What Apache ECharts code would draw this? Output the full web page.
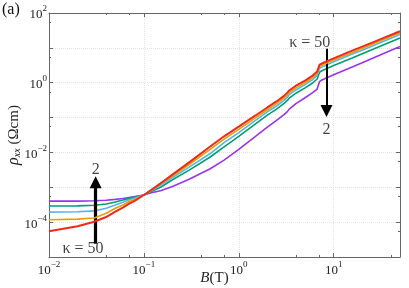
<!DOCTYPE html>
<html><head><meta charset="utf-8">
<script src="https://cdn.jsdelivr.net/npm/echarts@6/dist/echarts.min.js"></script>
<style>html,body{margin:0;padding:0;background:#fff}#c{width:409px;height:288px}</style>
</head><body><div id="c"></div>
<script>
// Magnetic field B (T)
const B = [0.01,0.02,0.03,0.04,0.05,0.06,0.07,0.08,0.1,0.12,0.15,0.2,0.3,0.5,0.7,1,1.5,2,2.5,3,3.25,3.4,4,5,6,6.7,7.1,7.5,10,15,20,30,50];
// rho_xx (Ohm cm) for each kappa
const rhoK2  = [4.0e-4,4.0e-4,4.1e-4,4.25e-4,4.5e-4,4.75e-4,5.1e-4,5.4e-4,6.0e-4,7.0e-4,8.0e-4,1.05e-3,1.7e-3,3.4e-3,6.0e-3,0.0122,0.029,0.053,0.083,0.122,0.148,0.175,0.25,0.37,0.52,0.66,1.08,1.2,1.7,2.7,3.75,6.0,11];
const rhoKa  = [2.9e-4,2.93e-4,3.05e-4,3.3e-4,3.8e-4,4.3e-4,4.8e-4,5.2e-4,6.0e-4,7.6e-4,1.0e-3,1.65e-3,3.1e-3,7.4e-3,0.0145,0.029,0.066,0.117,0.175,0.255,0.31,0.36,0.50,0.71,0.98,1.28,2.0,2.2,3.1,4.9,6.8,10.7,19.3];
const rhoKb  = [1.94e-4,1.98e-4,2.1e-4,2.5e-4,3.1e-4,3.7e-4,4.4e-4,4.9e-4,6.0e-4,8.0e-4,1.15e-3,1.9e-3,3.8e-3,9.3e-3,0.019,0.037,0.083,0.145,0.215,0.31,0.38,0.455,0.62,0.88,1.23,1.62,2.6,2.8,4.0,6.3,8.6,13.6,24];
const rhoKc  = [1.17e-4,1.22e-4,1.32e-4,1.8e-4,2.5e-4,3.1e-4,3.9e-4,4.5e-4,6.0e-4,8.3e-4,1.25e-3,2.1e-3,4.5e-3,0.0122,0.024,0.046,0.098,0.168,0.25,0.36,0.445,0.52,0.71,1.0,1.4,1.84,2.9,3.15,4.45,7.0,9.6,15.2,27];
const rhoK50 = [5.5e-5,7.6e-5,1.03e-4,1.4e-4,2.0e-4,2.6e-4,3.4e-4,4.1e-4,6.0e-4,8.5e-4,1.3e-3,2.3e-3,5.2e-3,0.0148,0.029,0.055,0.115,0.195,0.29,0.42,0.52,0.60,0.82,1.15,1.6,2.1,3.3,3.55,5.0,7.9,10.8,17,30];
const seriesNames = ['κ = 2','κ2','κ3','κ4','κ = 50'];
const seriesColors = ['#9933ee','#009e73','#56b4e9','#e69f00','#ee2a1b'];
const xTickExps = [-2,-1,0,1];
const yTickExps = [-4,-2,0,2];

const serif = 'Liberation Serif';
function expLabel(v, list){
  const e = Math.log10(v), r = Math.round(e);
  if (Math.abs(e - r) > 1e-6 || list.indexOf(r) < 0) return '';
  return '{b|10}{s|' + String(r).replace('-', '\u2212') + '}';
}
const rich = {
  b:{fontFamily:serif,fontSize:13,color:'#222',verticalAlign:'bottom',lineHeight:17},
  s:{fontFamily:serif,fontSize:9,color:'#222',verticalAlign:'top',lineHeight:17}
};
const axisLineStyle = {color:'#666',width:1};
const gridLine = {show:true,lineStyle:{type:'dotted',color:'#e2e2e2',width:1}};

const curves = [rhoK2, rhoKa, rhoKb, rhoKc, rhoK50].map((arr,k)=>({
  name: seriesNames[k], type:'line', showSymbol:false, symbol:'none',
  smooth:false,
  lineStyle:{color:seriesColors[k], width: k===4 ? 2 : 1.6},
  data: B.map((b,i)=>[b, arr[i]]), z: 2+k
}));

const chart = echarts.init(document.getElementById('c'), null, {renderer:'canvas'});
chart.setOption({
  animation:false,
  grid:{left:49,right:9,top:13,bottom:31,containLabel:false,outerBoundsMode:'none'},
  xAxis:[{
    type:'log', logBase:10, min:0.01, max:50, interval:1,
    axisLine:{lineStyle:axisLineStyle},
    axisTick:{inside:true,length:4,lineStyle:axisLineStyle},
    minorTick:{show:true,splitNumber:3,length:2,lineStyle:axisLineStyle},
    splitLine:gridLine,
    axisLabel:{margin:3,formatter:v=>expLabel(v,xTickExps),rich:rich,showMaxLabel:false},
    name:'{i|B}(T)', nameLocation:'middle', nameGap:14, nameMoveOverlap:false,
    nameTextStyle:{fontFamily:serif,fontSize:15,color:'#222',padding:[0,20,0,0],
      rich:{i:{fontFamily:serif,fontSize:15,fontStyle:'italic',color:'#222'}}}
  },{
    type:'log', logBase:10, min:0.01, max:50, interval:1, position:'top',
    axisLine:{lineStyle:axisLineStyle},
    axisTick:{inside:true,length:4,lineStyle:axisLineStyle},
    minorTick:{show:true,splitNumber:3,length:2,lineStyle:axisLineStyle},
    splitLine:{show:false}, axisLabel:{show:false}
  }],
  yAxis:[{
    type:'log', logBase:10, min:1e-5, max:100, interval:1,
    axisLine:{lineStyle:axisLineStyle},
    axisTick:{inside:true,length:4,lineStyle:axisLineStyle},
    minorTick:{show:true,splitNumber:2,length:2,lineStyle:axisLineStyle},
    splitLine:gridLine,
    axisLabel:{margin:2,formatter:v=>expLabel(v,yTickExps),rich:rich},
    name:'{r|ρ}{x|xx} (Ωcm)', nameLocation:'middle', nameGap:27, nameMoveOverlap:false,
    nameTextStyle:{fontFamily:serif,fontSize:15,color:'#222',
      rich:{r:{fontFamily:serif,fontSize:16,fontStyle:'italic',color:'#222'},
            x:{fontFamily:serif,fontSize:10,fontStyle:'italic',color:'#222',verticalAlign:'bottom',padding:[6,0,0,0]}}}
  },{
    type:'log', logBase:10, min:1e-5, max:100, interval:1, position:'right',
    axisLine:{lineStyle:axisLineStyle},
    axisTick:{inside:true,length:4,lineStyle:axisLineStyle},
    minorTick:{show:true,splitNumber:2,length:2,lineStyle:axisLineStyle},
    splitLine:{show:false}, axisLabel:{show:false}
  }],
  series: curves.concat([{
    name:'annotations', type:'scatter', symbolSize:0, z:10,
    label:{show:true,position:'inside',fontFamily:serif,fontSize:16,color:'#111',formatter:p=>p.data.t},
    data:[
      {value:[0.031,3.1e-3], t:'2'},
      {value:[0.0228,1.75e-5], t:'κ = 50'},
      {value:[5.6,14.4], t:'κ = 50'},
      {value:[8.4,0.046], t:'2'}
    ],
    markLine:{
      silent:true, symbol:['none','triangle'], symbolSize:12,
      label:{show:false},
      lineStyle:{color:'#000',type:'solid'},
      data:[
        [{coord:[0.031,2.4e-5],lineStyle:{width:3.2,color:'#000',type:'solid'}},{coord:[0.031,1.4e-3]}],
        [{coord:[8.4,9.5],lineStyle:{width:2,color:'#000',type:'solid'}},{coord:[8.4,0.155]}]
      ]
    }
  }]),
  graphic:[{type:'text',left:2,top:2,style:{text:'(a)',font:'16px "Liberation Serif"',fill:'#111'}}]
});
</script></body></html>
